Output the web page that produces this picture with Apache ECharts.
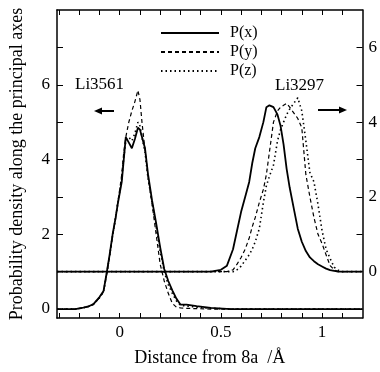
<!DOCTYPE html>
<html lang="en">
<head>
<meta charset="UTF-8">
<title>Probability density along the principal axes</title>
<style type="text/css">
  html, body { margin: 0; padding: 0; background: #fff; }
  #a { width: 380px; height: 372px; }
</style>
</head>
<body>
<div id="a"></div>
<script type="text/javascript" src="https://cdn.jsdelivr.net/npm/echarts@6/dist/echarts.min.js"></script>
<script type="text/javascript">
// left peak (Li3561), read on the left axis
var leftX  = [-0.31, -0.22, -0.18, -0.15, -0.13, -0.10, -0.08, -0.065, -0.05, -0.035, -0.02, -0.01, 0.0, 0.01, 0.02, 0.03, 0.045, 0.06, 0.075, 0.09, 0.10, 0.11, 0.125, 0.14, 0.16, 0.18, 0.20, 0.22, 0.24, 0.26, 0.28, 0.30, 0.33, 0.38, 0.45, 0.55, 1.2];
var leftPx = [0, 0, 0.04, 0.08, 0.13, 0.32, 0.48, 0.95, 1.45, 2.0, 2.45, 2.8, 3.1, 3.4, 4.0, 4.6, 4.45, 4.3, 4.55, 4.85, 4.8, 4.6, 4.3, 3.6, 2.9, 2.3, 1.65, 1.07, 0.75, 0.5, 0.28, 0.12, 0.12, 0.08, 0.03, 0, 0];
var leftPy = [0, 0, 0.03, 0.07, 0.12, 0.3, 0.46, 0.9, 1.4, 1.95, 2.45, 2.85, 3.2, 3.6, 4.2, 4.6, 5.0, 5.3, 5.55, 5.85, 5.6, 5.0, 4.25, 3.55, 2.8, 2.0, 1.2, 0.75, 0.42, 0.15, 0.05, 0.03, 0.02, 0.01, 0, 0, 0];
var leftPz = [0, 0, 0.03, 0.08, 0.13, 0.3, 0.47, 0.92, 1.42, 1.98, 2.45, 2.8, 3.15, 3.5, 4.05, 4.5, 4.6, 4.5, 4.7, 5.0, 4.9, 4.6, 4.2, 3.5, 2.85, 2.2, 1.55, 1.0, 0.65, 0.42, 0.22, 0.1, 0.08, 0.05, 0.02, 0, 0];

// right peak (Li3297), read on the right axis
var rightX  = [-0.31, 0.45, 0.5, 0.53, 0.56, 0.58, 0.6, 0.62, 0.64, 0.655, 0.67, 0.69, 0.71, 0.725, 0.74, 0.76, 0.78, 0.795, 0.81, 0.825, 0.84, 0.86, 0.88, 0.9, 0.92, 0.94, 0.96, 0.98, 1.0, 1.02, 1.04, 1.06, 1.08, 1.1, 1.2];
var rightPx = [0, 0, 0.05, 0.16, 0.6, 1.1, 1.6, 2.0, 2.4, 2.9, 3.3, 3.6, 4.0, 4.4, 4.45, 4.4, 4.2, 3.9, 3.4, 2.75, 2.25, 1.7, 1.15, 0.8, 0.55, 0.38, 0.28, 0.2, 0.14, 0.08, 0.04, 0.02, 0, 0, 0];
var rightPy = [0, 0, 0, 0, 0.05, 0.2, 0.38, 0.6, 0.9, 1.2, 1.45, 1.85, 2.2, 2.6, 3.2, 4.0, 4.3, 4.4, 4.45, 4.5, 4.4, 4.25, 4.1, 3.85, 2.6, 2.0, 1.45, 1.0, 0.75, 0.45, 0.16, 0.05, 0, 0, 0];
var rightPz = [0, 0, 0, 0, 0, 0.05, 0.15, 0.3, 0.45, 0.6, 0.8, 1.15, 1.85, 2.3, 2.55, 2.85, 3.5, 3.8, 4.0, 4.2, 4.35, 4.5, 4.65, 4.3, 3.5, 2.65, 2.4, 1.8, 1.1, 0.6, 0.35, 0.12, 0.04, 0, 0];

var seriesNames = ['P(x)', 'P(y)', 'P(z)'];
var xTicks = [-0.3, -0.2, -0.1, 0, 0.1, 0.2, 0.3, 0.4, 0.5, 0.6, 0.7, 0.8, 0.9, 1.0, 1.1];
var xLabels = [0, 0.5, 1];
var leftTicks = [0, 1, 2, 3, 4, 5, 6, 7];
var leftLabels = [0, 2, 4, 6];
var rightTicks = [0, 1, 2, 3, 4, 5, 6];
var rightLabels = [0, 2, 4, 6];

var FONT = 'Liberation Serif';
var myChart = echarts.init(document.getElementById('a'));

function pairs(xs, ys) {
  return xs.map(function (x, i) { return [x, ys[i]]; });
}

// line styles: solid, dashed, dotted
var styles = [
  { type: 'solid', width: 1.8 },
  { type: [4, 3], width: 1.2 },
  { type: [1.5, 3], width: 1.6 }
];

var leftData = [leftPx, leftPy, leftPz];
var rightData = [rightPx, rightPy, rightPz];
var series = [];
for (var i = 0; i < 3; i++) {
  series.push({
    name: seriesNames[i], type: 'line', yAxisIndex: 0, symbol: 'none', color: '#000',
    data: pairs(leftX, leftData[i]),
    lineStyle: { color: '#000', type: styles[i].type, width: styles[i].width }
  });
  series.push({
    name: seriesNames[i], type: 'line', yAxisIndex: 1, symbol: 'none', color: '#000',
    data: pairs(rightX, rightData[i]),
    lineStyle: { color: '#000', type: styles[i].type, width: styles[i].width }
  });
}

var axisLine = { show: true, onZero: false, lineStyle: { color: '#000', width: 1.5 } };
var labelStyle = { color: '#000', fontFamily: FONT, fontSize: 17 };

var option = {
  animation: false,
  backgroundColor: '#fff',
  grid: { left: 57, top: 10, right: 16, bottom: 53 },
  legend: {
    data: seriesNames,
    orient: 'vertical',
    left: 160, top: 25, padding: 0,
    itemWidth: 58, itemHeight: 12, itemGap: 3,
    itemStyle: { opacity: 0 },
    textStyle: { color: '#000', fontFamily: FONT, fontSize: 16, lineHeight: 16, padding: [0, 0, 0, 6] }
  },
  xAxis: [{
    type: 'value', min: -0.31, max: 1.2, position: 'bottom',
    name: 'Distance from 8a  /Å', nameLocation: 'middle', nameGap: 31,
    nameTextStyle: { color: '#000', fontFamily: FONT, fontSize: 18 },
    axisLine: axisLine,
    axisTick: { show: true, inside: true, length: 5, customValues: xTicks, lineStyle: { color: '#000' } },
    axisLabel: Object.assign({ customValues: xLabels, margin: 6 }, labelStyle),
    splitLine: { show: false }
  }, {
    type: 'value', min: -0.31, max: 1.2, position: 'top',
    axisLine: axisLine,
    axisTick: { show: true, inside: true, length: 5, customValues: xTicks, lineStyle: { color: '#000' } },
    axisLabel: { show: false },
    splitLine: { show: false }
  }],
  yAxis: [{
    type: 'value', min: -0.24, max: 8, position: 'left',
    name: 'Probability density along the principal axes', nameLocation: 'middle', nameGap: 31,
    nameTextStyle: { color: '#000', fontFamily: FONT, fontSize: 18 },
    axisLine: axisLine,
    axisTick: { show: true, inside: true, length: 6, customValues: leftTicks, lineStyle: { color: '#000' } },
    axisLabel: Object.assign({ customValues: leftLabels, margin: 7 }, labelStyle),
    splitLine: { show: false }
  }, {
    type: 'value', min: -1.24, max: 7, position: 'right',
    axisLine: axisLine,
    axisTick: { show: true, inside: true, length: 6, customValues: rightTicks, lineStyle: { color: '#000' } },
    axisLabel: Object.assign({ customValues: rightLabels, margin: 6 }, labelStyle),
    splitLine: { show: false }
  }],
  graphic: [
    { type: 'text', left: 75, top: 76, style: { text: 'Li3561', fill: '#000', font: '17px "Liberation Serif"' } },
    { type: 'text', left: 275, top: 77, style: { text: 'Li3297', fill: '#000', font: '17px "Liberation Serif"' } },
    // arrows
    { type: 'line', shape: { x1: 100, y1: 111, x2: 114, y2: 111 }, style: { stroke: '#000', lineWidth: 2 } },
    { type: 'polygon', shape: { points: [[94, 111], [102, 107.5], [102, 114.5]] }, style: { fill: '#000' } },
    { type: 'line', shape: { x1: 318, y1: 110, x2: 341, y2: 110 }, style: { stroke: '#000', lineWidth: 2 } },
    { type: 'polygon', shape: { points: [[347, 110], [339, 106.5], [339, 113.5]] }, style: { fill: '#000' } }
  ],
  series: series
};
myChart.setOption(option);
</script>
</body>
</html>
